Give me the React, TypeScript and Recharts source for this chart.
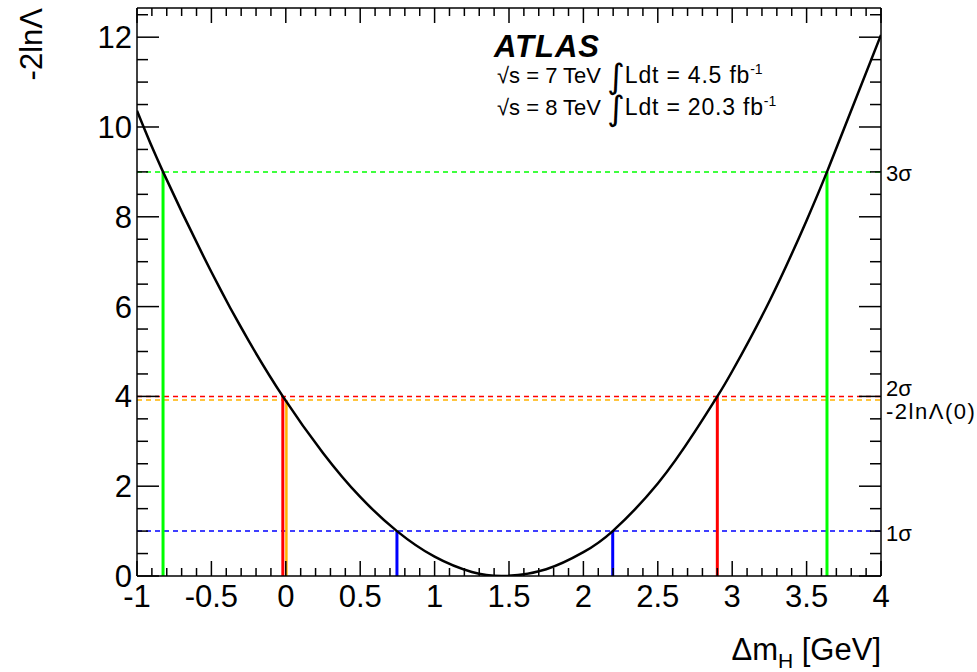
import React from 'react';
import { ComposedChart, Line, XAxis, YAxis, ReferenceLine } from 'recharts';

// scan of -2lnΛ vs Δm_H
const DELTA_M = [-1, -0.825, -0.5, -0.25, -0.02, 0.25, 0.5, 0.747, 1.0, 1.25, 1.47, 1.75, 2.0, 2.197, 2.5, 2.75, 2.9, 3.0, 3.25, 3.5, 3.637, 3.75, 4.0];
const NLL = [10.36, 9.0, 6.77, 5.24, 4.0, 2.74, 1.76, 1.0, 0.43, 0.09, 0.0, 0.15, 0.53, 1.0, 2.06, 3.22, 4.0, 4.56, 6.12, 7.92, 9.0, 9.95, 12.05];

// sigma levels and where the curve crosses them
const LEVELS = [1, 4, 9];
const LEVEL_LABELS = ['1σ', '2σ', '3σ'];
const LEVEL_COLORS = ['#0000ff', '#ff0000', '#00ff00'];
const LEVEL_SHIFT = [2, -8, 1];
const CROSS_LO = [0.747, -0.02, -0.825];
const CROSS_HI = [2.197, 2.9, 3.637];

// value at Δm = 0
const ZERO_X = 0.004;
const ZERO_LEVEL = 3.92;
const ZERO_COLOR = '#ffb300';

const X_DOMAIN: [number, number] = [-1, 4];
const Y_DOMAIN: [number, number] = [0, 12.65];
const X_MAJOR = [-1, -0.5, 0, 0.5, 1, 1.5, 2, 2.5, 3, 3.5, 4];
const Y_MAJOR = [0, 2, 4, 6, 8, 10, 12];
const X_TICKS = Array.from({ length: 51 }, (_, i) => Math.round((-1 + i * 0.1) * 10) / 10);
const Y_TICKS = Array.from({ length: 26 }, (_, i) => i * 0.5);

const data = DELTA_M.map((dm, i) => ({ dm, nll: NLL[i] }));

const FONT = '"Liberation Sans", Arial, Helvetica, sans-serif';
const isMajor = (list: number[], v: number) => list.some((m) => Math.abs(m - v) < 1e-6);
const AXIS = { stroke: '#000', strokeWidth: 1.5 };

const BottomTick = ({ x, y, payload }: any) => {
  const major = isMajor(X_MAJOR, payload.value);
  return (
    <g>
      <line x1={x} x2={x} y1={y} y2={y - (major ? 15 : 8)} stroke="#000" strokeWidth={1.5} />
      {major && (
        <text x={x} y={y + 31} textAnchor="middle" fontSize={31} fontFamily={FONT} fill="#000">
          {payload.value}
        </text>
      )}
    </g>
  );
};

const TopTick = ({ x, y, payload }: any) => {
  const major = isMajor(X_MAJOR, payload.value);
  return <line x1={x} x2={x} y1={y} y2={y + (major ? 15 : 8)} stroke="#000" strokeWidth={1.5} />;
};

const LeftTick = ({ x, y, payload }: any) => {
  const major = isMajor(Y_MAJOR, payload.value);
  return (
    <g>
      <line x1={x} x2={x + (major ? 22 : 11)} y1={y} y2={y} stroke="#000" strokeWidth={1.5} />
      {major && (
        <text x={x - 5} y={y + 11} textAnchor="end" fontSize={31} fontFamily={FONT} fill="#000">
          {payload.value}
        </text>
      )}
    </g>
  );
};

const RightTick = ({ x, y, payload }: any) => {
  const major = isMajor(Y_MAJOR, payload.value);
  return <line x1={x} x2={x - (major ? 22 : 11)} y1={y} y2={y} stroke="#000" strokeWidth={1.5} />;
};

const SideLabel = ({ viewBox, txt, shiftY, spacing }: any) => {
  if (!viewBox) return null;
  return (
    <text
      x={viewBox.x + viewBox.width + 5}
      y={viewBox.y + shiftY + 8}
      fontSize={22}
      fontFamily={FONT}
      fill="#000"
      letterSpacing={spacing || 0}
    >
      {txt}
    </text>
  );
};

export default function App() {
  return (
    <div style={{ position: 'absolute', left: 0, top: 0, width: 977, height: 672, background: '#fff' }}>
      <ComposedChart width={977} height={672} data={data} margin={{ top: 7, right: 95, bottom: 95, left: 136 }}>
        <XAxis
          dataKey="dm"
          type="number"
          domain={X_DOMAIN}
          ticks={X_TICKS}
          interval={0}
          height={1}
          tickSize={0}
          tickMargin={0}
          tickLine={false}
          tick={BottomTick}
          axisLine={AXIS}
          allowDataOverflow
        />
        <XAxis
          xAxisId="t"
          dataKey="dm"
          orientation="top"
          type="number"
          domain={X_DOMAIN}
          ticks={X_TICKS}
          interval={0}
          height={1}
          tickSize={0}
          tickMargin={0}
          tickLine={false}
          tick={TopTick}
          axisLine={AXIS}
          allowDataOverflow
        />
        <YAxis
          type="number"
          domain={Y_DOMAIN}
          ticks={Y_TICKS}
          interval={0}
          width={1}
          tickSize={0}
          tickMargin={0}
          tickLine={false}
          tick={LeftTick}
          axisLine={AXIS}
          allowDataOverflow
        />
        <YAxis
          yAxisId="r"
          orientation="right"
          type="number"
          domain={Y_DOMAIN}
          ticks={Y_TICKS}
          interval={0}
          width={1}
          tickSize={0}
          tickMargin={0}
          tickLine={false}
          tick={RightTick}
          axisLine={AXIS}
          allowDataOverflow
        />

        {LEVELS.map((lv, i) => (
          <ReferenceLine
            key={'h' + lv}
            y={lv}
            stroke={LEVEL_COLORS[i]}
            strokeWidth={1.5}
            strokeDasharray="5 4"
            label={<SideLabel txt={LEVEL_LABELS[i]} shiftY={LEVEL_SHIFT[i]} />}
          />
        ))}
        <ReferenceLine
          y={ZERO_LEVEL}
          stroke={ZERO_COLOR}
          strokeWidth={1.5}
          strokeDasharray="5 4"
          label={<SideLabel txt="-2lnΛ(0)" shiftY={11} spacing={1.5} />}
        />

        {LEVELS.map((lv, i) => (
          <ReferenceLine
            key={'lo' + lv}
            segment={[{ x: CROSS_LO[i], y: 0 }, { x: CROSS_LO[i], y: lv }]}
            stroke={LEVEL_COLORS[i]}
            strokeWidth={3}
          />
        ))}
        {LEVELS.map((lv, i) => (
          <ReferenceLine
            key={'hi' + lv}
            segment={[{ x: CROSS_HI[i], y: 0 }, { x: CROSS_HI[i], y: lv }]}
            stroke={LEVEL_COLORS[i]}
            strokeWidth={3}
          />
        ))}
        <ReferenceLine
          segment={[{ x: ZERO_X, y: 0 }, { x: ZERO_X, y: ZERO_LEVEL }]}
          stroke={ZERO_COLOR}
          strokeWidth={2.5}
        />

        <Line type="natural" dataKey="nll" stroke="#000" strokeWidth={2.5} dot={false} isAnimationActive={false} />
        <Line
          xAxisId="t"
          yAxisId="r"
          type="natural"
          dataKey="nll"
          stroke="none"
          dot={false}
          isAnimationActive={false}
        />
      </ComposedChart>

      <svg
        width={977}
        height={672}
        style={{ position: 'absolute', left: 0, top: 0, pointerEvents: 'none' }}
        fontFamily={FONT}
      >
        <text x={42} y={8} transform="rotate(-90 42 8)" textAnchor="end" fontSize={31} fill="#000">
          -2lnΛ
        </text>
        <text x={881} y={660} textAnchor="end" fontSize={31} fill="#000">
          Δm<tspan dy={8} fontSize={21}>H</tspan>
          <tspan dy={-8}> [GeV]</tspan>
        </text>
        <text x={494} y={57} fontSize={31} fontWeight="bold" fontStyle="italic" fill="#000" letterSpacing={1}>
          ATLAS
        </text>
        <text x={497} y={83} fontSize={22} fill="#000">
          √s = 7 TeV <tspan fontSize={34} dy={5} fontFamily="DejaVu Sans">∫</tspan>
          <tspan dy={-5} fontSize={23} letterSpacing={0.8}>Ldt = 4.5 fb</tspan>
          <tspan dy={-9} fontSize={14}>-1</tspan>
        </text>
        <text x={497} y={115} fontSize={22} fill="#000">
          √s = 8 TeV <tspan fontSize={34} dy={5} fontFamily="DejaVu Sans">∫</tspan>
          <tspan dy={-5} fontSize={23} letterSpacing={0.8}>Ldt = 20.3 fb</tspan>
          <tspan dy={-9} fontSize={14}>-1</tspan>
        </text>
      </svg>
    </div>
  );
}
